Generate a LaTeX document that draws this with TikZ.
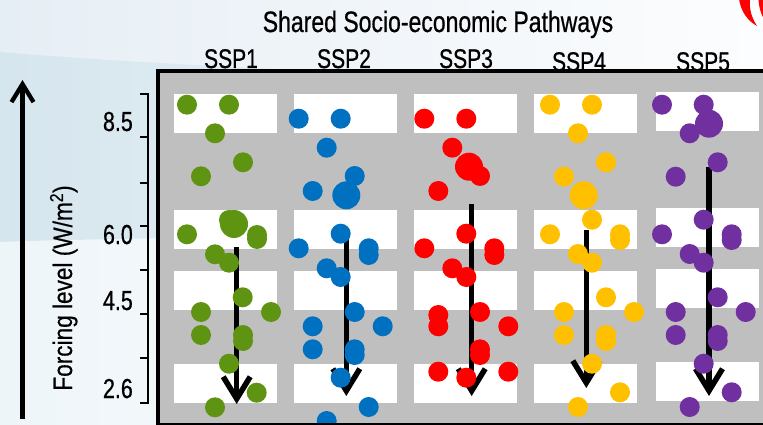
\documentclass[tikz,border=0pt]{standalone}
\usepackage{fontspec}
\setmainfont{Liberation Sans}[FakeStretch=0.78,FakeBold=0.6]
\newfontfamily\axisfont{Liberation Sans}[FakeStretch=0.85,FakeBold=0.4]
\usetikzlibrary{arrows.meta}
\definecolor{cgreen}{HTML}{5F9413}
\definecolor{cblue}{HTML}{0070C0}
\definecolor{cred}{HTML}{FF0000}
\definecolor{cyel}{HTML}{FFC000}
\definecolor{cpurp}{HTML}{7030A0}
\definecolor{panelgray}{HTML}{BFBFBF}
\definecolor{bgA}{HTML}{E6EEF5}
\definecolor{bgB}{HTML}{FCFDFE}
\definecolor{bandA}{HTML}{D6E6EE}
\definecolor{bandB}{HTML}{E8F0F5}
\definecolor{lowA}{HTML}{EEF5F9}
\begin{document}
\begin{tikzpicture}[x=1pt,y=-1pt,
  lbl/.style={inner sep=0pt, text=black},
  titletext/.style={lbl, anchor=base, font=\fontsize{29.5}{32}\selectfont},
  ssptext/.style={lbl, anchor=base, font=\fontsize{27}{30}\selectfont},
  ticktext/.style={lbl, anchor=base east, font=\fontsize{27.5}{30}\selectfont},
  axistext/.style={lbl, anchor=base, rotate=90, font=\axisfont\fontsize{26.6}{29}\selectfont},
  whitebox/.style={fill=white},
  colarrow/.style={line width=5.5pt, -{Straight Barb[length=22pt,width=27pt]}},
  bigarrow/.style={line width=4.3pt, -{Straight Barb[length=18pt,width=22pt]}},
  tickline/.style={line width=1.3pt},
]
\useasboundingbox (0,0) rectangle (763,425);
% background
\shade[left color=bgA, right color=bgB] (0,0) rectangle (763,425);
\shade[left color=bandA, right color=bandB] (0,52) .. controls (120,62) and (300,72) .. (520,78) -- (520,236) .. controls (300,236) and (120,238) .. (0,242) -- cycle;
\shade[left color=lowA, right color=bgB] (0,242) .. controls (120,238) and (300,236) .. (520,236) -- (520,425) -- (0,425) -- cycle;
% logo fragment
\fill[cred] (739,-1) .. controls (741,12) and (748,21) .. (757,26) .. controls (752,18) and (749,10) .. (750,-1) -- cycle;
\fill[cred] (758.5,-1) .. controls (759,8) and (761,14) .. (764,19) -- (764,12) .. controls (763,8) and (762.5,4) .. (763,-1) -- cycle;
% titles
\node[titletext] (title) at (438,32) {Shared Socio-economic Pathways};
\node[ssptext] (s1) at (231,68) {SSP1};
\node[ssptext] (s2) at (344,68) {SSP2};
\node[ssptext] (s3) at (466,68) {SSP3};
\node[ssptext] (s4) at (579,71) {SSP4};
\node[ssptext] (s5) at (703,71) {SSP5};
% y axis
\coordinate (yb) at (22.5,419);
\coordinate (yt) at (22.5,80);
\draw[bigarrow] (yb) -- (yt);
\node[axistext] (ylab) at (72,288) {Forcing level (W/m\textsuperscript{2})};
% tick scale
\draw[tickline] (140,94) -- (148,94) -- (148,403) -- (140,403);
\foreach \ty in {137,183,226,270,314,358} \draw[tickline] (140,\ty) -- (148,\ty);
\node[ticktext] (t85) at (133,131) {8.5};
\node[ticktext] (t60) at (133,244) {6.0};
\node[ticktext] (t45) at (133,310) {4.5};
\node[ticktext] (t26) at (133,398) {2.6};
% panel
\fill[panelgray] (158,71) rectangle (775,425);
\foreach \bx in {174,294,414,534} {
  \foreach \ya/\yb in {94/133,210/249,271/310,364/403}
    \fill[whitebox] (\bx,\ya) rectangle ++(103,\yb-\ya);
}
\foreach \ya/\yb in {92/131,208/247,269/308,362/401}
  \fill[whitebox] (656,\ya) rectangle ++(103,\yb-\ya);
% column arrows
\coordinate (a1s) at (236.7,247); \coordinate (a1e) at (236.7,404);
\coordinate (a2s) at (346.3,238); \coordinate (a2e) at (346.3,396);
\coordinate (a3s) at (471.7,204); \coordinate (a3e) at (471.7,396);
\coordinate (a4s) at (586.3,230); \coordinate (a4e) at (586.3,388);
\coordinate (a5s) at (709,167);   \coordinate (a5e) at (709,396);
\foreach \i in {1,...,5} \draw[colarrow] (a\i s) -- (a\i e);
% dots
\foreach \x/\y in {187/104.7, 229/104.7, 215/133.3, 243/162.3, 201/176.3, 229/220, 187/234.3, 257/235, 257/239, 215/254.3, 229/262.7, 242.7/297.3, 201/312, 271/312, 201/335, 243/335, 243/341, 229/363.7, 256.7/392.7, 215/407.3}
  \fill[cgreen] (\x,\y) circle[radius=10pt];
\fill[cgreen] (234,224) circle[radius=14pt];
\foreach \x/\y in {298.7/118.7, 340.7/118.7, 326.7/147.7, 354.7/176, 312.7/191, 340.7/233.7, 298.7/248.3, 368.7/248.3, 368.7/255, 326.7/268.3, 340.7/277, 354.7/312, 312.7/326.3, 382.7/326.3, 312.7/349.3, 354.7/349.3, 354.7/355, 340.7/377.7, 368.7/407, 326.7/421}
  \fill[cblue] (\x,\y) circle[radius=10pt];
\fill[cblue] (346.3,195.3) circle[radius=14pt];
\foreach \x/\y in {424.3/118.7, 466.3/118.7, 452.3/147.7, 480/176, 438.3/191, 466.3/233.7, 424.3/248.3, 494.3/248.3, 494.3/255, 452.3/268.3, 466.3/277, 480/312, 438.3/315, 438.3/326.3, 508.3/326.3, 480/349.3, 480/355, 438.3/371.7, 466.3/377.7, 508.3/371.7}
  \fill[cred] (\x,\y) circle[radius=10pt];
\fill[cred] (469,166.7) circle[radius=14pt];
\foreach \x/\y in {550/104.7, 592/104.7, 578/133.3, 606/162.3, 564/176.7, 592/219.7, 550/234.3, 620/234.3, 620/240, 578/254, 592/262.7, 606/297.3, 564/312, 634/312, 564/335, 606/335, 606/341, 592/363.7, 620/392.3, 578/407}
  \fill[cyel] (\x,\y) circle[radius=10pt];
\fill[cyel] (583.7,195.3) circle[radius=14pt];
\foreach \x/\y in {662/104.7, 703.7/104.7, 689.7/133.3, 717.7/162.3, 675.7/176.7, 703.7/219.7, 662/234.3, 731.7/234.3, 731.7/240, 689.7/254, 703.7/262.7, 717.7/297.3, 675.7/312, 745.7/312, 675.7/335, 717.7/335, 717.7/341, 703.7/363.7, 731.7/392.3, 689.7/407}
  \fill[cpurp] (\x,\y) circle[radius=10pt];
\fill[cpurp] (709,123.7) circle[radius=14pt];
% panel border
\draw[line width=4.3pt] (158,71) rectangle (775,425);
\end{tikzpicture}
\end{document}
